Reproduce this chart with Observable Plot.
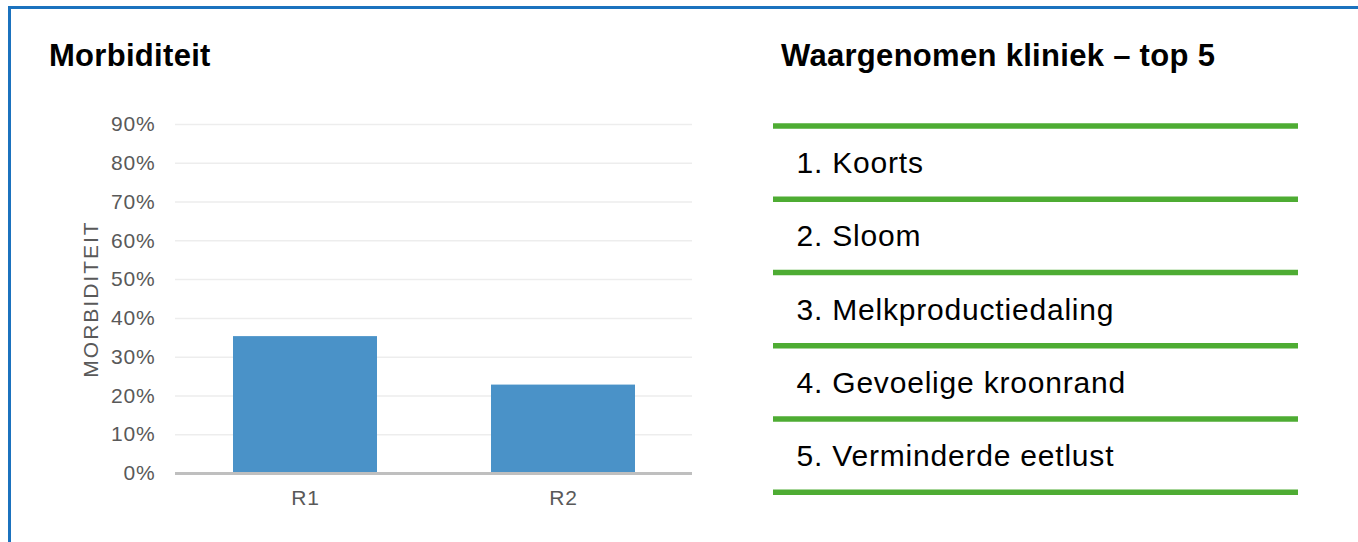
<!DOCTYPE html>
<html>
<head>
<meta charset="utf-8">
<script src="https://cdn.jsdelivr.net/npm/d3@7"></script>
<script src="https://cdn.jsdelivr.net/npm/@observablehq/plot@0.6"></script>
<style>
  html, body { margin: 0; padding: 0; background: #fff; overflow: hidden; }
  body { width: 1358px; height: 542px; position: relative; font-family: "Liberation Sans", Arial, sans-serif; }
  #frame { position: absolute; left: 8px; top: 6px; width: 1400px; height: 600px; border: 3px solid #1B72BE; box-sizing: border-box; }
  .title { position: absolute; top: 40px; font-size: 31px; line-height: 31px; font-weight: bold; color: #000; letter-spacing: 0.3px; white-space: nowrap; }
  #chart { position: absolute; left: 0; top: 0; }
  #list { position: absolute; left: 760px; top: 100px; }
</style>
</head>
<body>
<div id="frame"></div>
<div class="title" style="left:49px">Morbiditeit</div>
<div class="title" style="left:781px">Waargenomen kliniek – top 5</div>
<div id="chart"></div>
<div id="list"></div>
<script>
// Data
const regions = ["R1", "R2"];
const morbidity = [0.353, 0.228];
const yTicks = [0, 0.1, 0.2, 0.3, 0.4, 0.5, 0.6, 0.7, 0.8, 0.9];
const yLabel = "MORBIDITEIT";
const symptoms = ["1. Koorts", "2. Sloom", "3. Melkproductiedaling", "4. Gevoelige kroonrand", "5. Verminderde eetlust"];

const bars = regions.map((r, i) => ({region: r, value: morbidity[i]}));

const chart = Plot.plot({
  width: 740,
  height: 542,
  marginLeft: 175,
  marginRight: 48,
  marginTop: 124,
  marginBottom: 69,
  style: {fontFamily: "Liberation Sans, Arial, sans-serif", background: "transparent"},
  x: {domain: regions, paddingInner: 0.443, paddingOuter: 0.2215, label: null},
  y: {domain: [0, 0.9], label: null},
  marks: [
    Plot.ruleY(yTicks.filter(d => d > 0), {stroke: "#EDEDED", strokeWidth: 1.5}),
    Plot.barY(bars, {x: "region", y: "value", fill: "#4A92C8"}),
    Plot.ruleY([0], {stroke: "#BFBFBF", strokeWidth: 3}),
    Plot.axisY({ticks: yTicks, tickFormat: d3.format(".0%"), tickSize: 0, tickPadding: 20, fontSize: 21, fill: "#595959", label: null}),
    Plot.axisX({tickSize: 0, tickPadding: 17, fontSize: 21, fill: "#595959", label: null}),
    Plot.text([yLabel], {frameAnchor: "left", textAnchor: "middle", dx: -84, rotate: -90, fontSize: 21, fill: "#595959", text: d => d})
  ]
});
chart.querySelectorAll("text").forEach(t => t.style.letterSpacing = "0.8px");
chart.querySelectorAll("text").forEach(t => { if (t.textContent === yLabel) t.style.letterSpacing = "2px"; });
document.getElementById("chart").appendChild(chart);

const rows = symptoms.map((s, i) => ({label: s, pos: i + 0.5}));
const list = Plot.plot({
  width: 560,
  height: 420,
  marginLeft: 13,
  marginRight: 22,
  marginTop: 25.5,
  marginBottom: 28.3,
  style: {fontFamily: "Liberation Sans, Arial, sans-serif", background: "transparent"},
  x: {domain: [0, 1], axis: null},
  y: {domain: [0, symptoms.length], reverse: true, axis: null},
  marks: [
    Plot.ruleY(d3.range(symptoms.length + 1), {stroke: "#4EAC33", strokeWidth: 5.6}),
    Plot.text(rows, {x: 0, y: "pos", text: "label", textAnchor: "start", dx: 23, dy: 1, fontSize: 30, fill: "#000"})
  ]
});
list.querySelectorAll("text").forEach(t => t.style.letterSpacing = "0.8px");
document.getElementById("list").appendChild(list);
</script>
</body>
</html>
